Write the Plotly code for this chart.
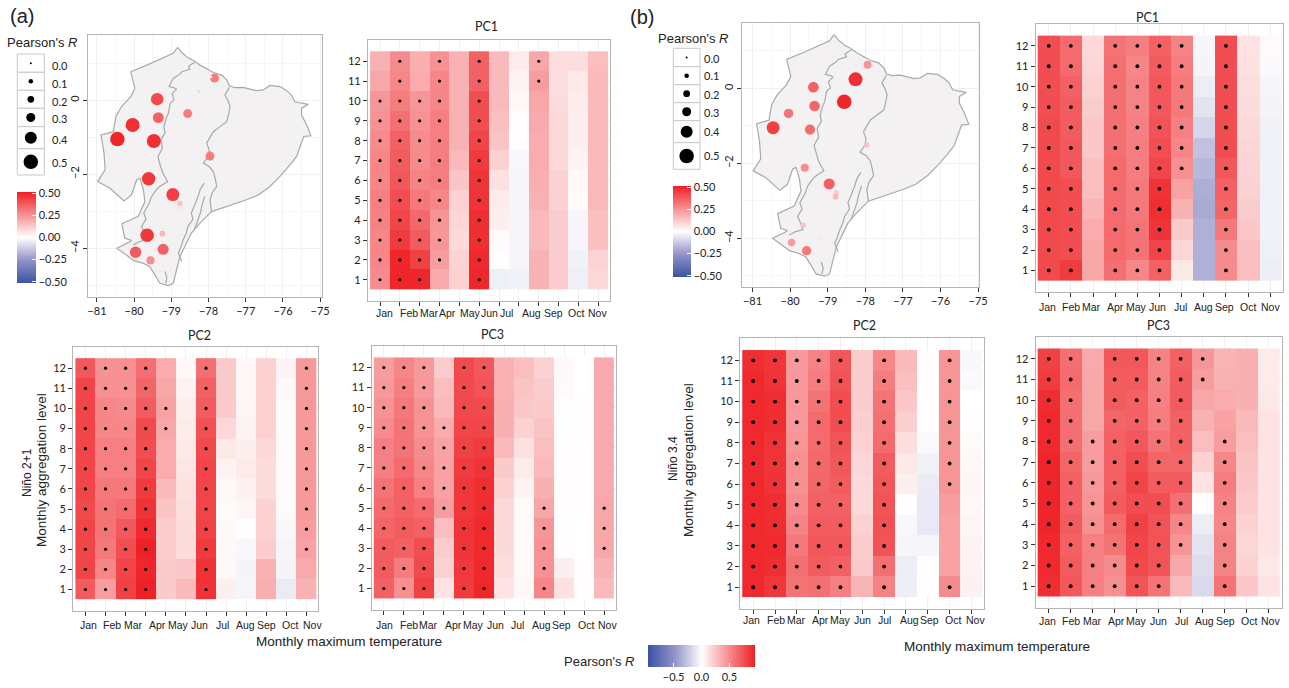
import numpy as np
import plotly.graph_objects as go

W, H = 1289, 688
MONTHS = ["Jan","Feb","Mar","Apr","May","Jun","Jul","Aug","Sep","Oct","Nov"]
LEVELS = list(range(1, 13))

# ---- Heatmap values, one list per column, rows 1..12 ----
A_PC1 = [
 [.50,.52,.52,.54,.55,.52,.52,.50,.47,.45,.38,.33],
 [.94,.93,.85,.80,.76,.72,.70,.68,.62,.56,.52,.50],
 [.93,.82,.70,.65,.58,.54,.50,.50,.47,.45,.36,.35],
 [.37,.42,.45,.46,.52,.56,.56,.55,.55,.52,.52,.48],
 [.20,.19,.16,.18,.20,.25,.30,.33,.33,.33,.33,.33],
 [.93,.92,.90,.90,.88,.87,.85,.80,.76,.76,.68,.68],
 [-.07,.01,.02,.07,.08,.13,.20,.26,.27,.30,.30,.30],
 [-.06,-.04,-.04,-.04,-.04,-.04,-.03,.01,.01,.03,.05,.08],
 [.33,.33,.30,.30,.33,.35,.36,.36,.37,.38,.42,.38],
 [.22,.22,.22,.22,.20,.20,.16,.16,.16,.15,.14,.14],
 [-.07,-.06,-.04,-.04,.02,.03,.05,.07,.07,.08,.10,.14],
 [.17,.19,.27,.27,.30,.30,.30,.30,.30,.30,.30,.28]]
A_PC2 = [
 [.70,.80,.80,.80,.78,.80,.80,.80,.80,.80,.80,.72],
 [.42,.52,.58,.60,.60,.58,.55,.55,.52,.52,.48,.47],
 [.82,.80,.76,.72,.64,.58,.55,.55,.52,.50,.48,.48],
 [.95,.93,.95,.92,.88,.85,.80,.76,.78,.70,.66,.62],
 [.23,.23,.22,.22,.25,.30,.36,.36,.38,.40,.38,.36],
 [.30,.24,.15,.15,.14,.13,.11,.10,.09,.07,.05,.03],
 [.88,.88,.85,.82,.80,.80,.80,.78,.75,.70,.68,.62],
 [.07,.03,.03,.03,.02,.03,.05,.10,.17,.23,.23,.23],
 [-.04,-.05,-.03,.01,.04,.06,.09,.07,.05,.04,.03,.03],
 [.35,.33,.22,.20,.20,.15,.15,.17,.20,.20,.20,.20],
 [-.09,-.05,-.04,-.03,.02,.02,.02,.02,.02,.02,.03,.05],
 [.33,.37,.40,.42,.44,.44,.44,.44,.44,.44,.44,.44]]
A_PC3 = [
 [.68,.70,.70,.66,.64,.60,.55,.55,.50,.47,.44,.42],
 [.48,.56,.68,.70,.68,.68,.64,.60,.60,.58,.55,.52],
 [.82,.78,.76,.68,.64,.55,.52,.50,.47,.47,.44,.44],
 [.12,.20,.22,.28,.42,.40,.40,.40,.36,.30,.28,.22],
 [.85,.86,.87,.88,.86,.86,.84,.82,.80,.78,.78,.78],
 [.93,.92,.92,.92,.90,.90,.88,.84,.80,.78,.74,.72],
 [.12,.14,.16,.16,.17,.20,.23,.30,.34,.34,.33,.33],
 [.03,.02,.02,.02,.02,.05,.09,.13,.20,.24,.26,.28],
 [.52,.47,.47,.45,.38,.34,.30,.28,.26,.23,.22,.20],
 [.13,.07,.01,.01,.01,.01,.01,.01,.01,.01,.02,.03],
 [.01,.01,.00,.00,.01,.01,.01,.01,-.01,-.01,.00,.00],
 [.30,.33,.38,.38,.38,.37,.37,.37,.37,.37,.37,.37]]
B_PC1 = [
 [.78,.78,.78,.78,.78,.78,.78,.78,.76,.76,.76,.76],
 [.84,.76,.76,.76,.76,.72,.72,.70,.70,.68,.64,.64],
 [.38,.38,.36,.32,.28,.27,.24,.24,.22,.20,.18,.17],
 [.62,.64,.64,.64,.64,.64,.62,.62,.62,.62,.62,.60],
 [.52,.60,.60,.58,.58,.56,.56,.55,.54,.54,.52,.56],
 [.68,.80,.88,.90,.88,.80,.76,.74,.72,.72,.70,.68],
 [.10,.18,.23,.33,.40,.48,.52,.55,.58,.58,.56,.54],
 [-.35,-.35,-.35,-.38,-.36,-.32,-.27,-.18,-.12,-.08,-.05,-.04],
 [.50,.50,.58,.66,.68,.72,.76,.76,.76,.76,.76,.76],
 [.28,.27,.24,.22,.20,.19,.18,.16,.15,.14,.13,.12],
 [-.08,-.07,-.06,-.06,-.06,-.06,-.06,-.06,-.05,-.04,-.02,.02]]
B_PC2 = [
 [.92,.92,.92,.92,.92,.92,.92,.92,.92,.92,.92,.90],
 [.86,.90,.92,.90,.90,.88,.87,.88,.90,.90,.88,.87],
 [.60,.62,.58,.54,.50,.48,.48,.46,.44,.44,.44,.44],
 [.62,.70,.72,.70,.68,.66,.65,.64,.64,.60,.56,.54],
 [.55,.68,.72,.70,.68,.70,.72,.74,.76,.76,.74,.72],
 [.32,.23,.22,.20,.17,.16,.18,.20,.21,.22,.22,.22],
 [.54,.62,.74,.75,.74,.72,.70,.64,.62,.60,.56,.52],
 [-.08,-.08,-.04,-.03,.01,.07,.10,.14,.21,.24,.27,.30],
 [.01,-.01,-.04,-.10,-.10,-.09,-.06,-.02,.01,.01,.01,.01],
 [.50,.40,.40,.40,.42,.46,.46,.46,.46,.46,.46,.46],
 [.06,.05,.05,.04,.03,.04,.03,.02,.01,.00,-.02,-.03]]
B_PC3 = [
 [.90,.92,.92,.94,.94,.94,.94,.92,.92,.90,.84,.82],
 [.72,.70,.68,.70,.68,.68,.66,.62,.62,.62,.64,.62],
 [.55,.55,.55,.48,.46,.44,.42,.42,.38,.38,.38,.37],
 [.48,.50,.60,.64,.70,.68,.68,.68,.66,.70,.70,.72],
 [.74,.78,.80,.82,.76,.80,.76,.72,.68,.68,.70,.72],
 [.60,.74,.74,.74,.76,.70,.66,.60,.56,.55,.54,.54],
 [.30,.38,.46,.52,.62,.70,.66,.68,.68,.70,.70,.68],
 [-.17,-.15,-.12,-.08,.00,.12,.20,.28,.33,.38,.42,.45],
 [.60,.54,.54,.52,.54,.56,.52,.42,.40,.36,.33,.32],
 [.24,.20,.18,.20,.22,.24,.26,.28,.30,.34,.34,.35],
 [.12,.10,.12,.12,.12,.12,.12,.12,.12,.10,.09,.09]]

# ---- Significant cells: column -> rows ----
ALL = LEVELS
A_PC1_SIG = {1:LEVELS[:10],2:ALL,3:LEVELS[:10],4:LEVELS[1:],6:ALL,9:[11,12]}
A_PC2_SIG = {1:ALL,2:ALL,3:ALL,4:ALL,5:[9,10],7:ALL,12:LEVELS[2:]}
A_PC3_SIG = {1:ALL,2:ALL,3:ALL,4:[5,6,7,8,9],5:ALL,6:ALL,9:[1,2,3,4,5],12:[3,4,5]}
B_PC1_SIG = {1:ALL,2:ALL,4:ALL,5:ALL,6:ALL,7:LEVELS[5:],9:ALL}
B_PC2_SIG = {1:ALL,2:ALL,3:ALL,4:ALL,5:ALL,7:ALL,10:[1,6,7,8,9,10,11,12]}
B_PC3_SIG = {1:ALL,2:ALL,3:LEVELS[:8],4:ALL,5:ALL,6:ALL,7:LEVELS[2:],8:[11,12],9:LEVELS[:8]}

# ---- Hand-placed month label positions (in column units) ----
A_PC1_LAB = [1.22,2.46,3.49,4.41,5.54,6.50,7.35,8.61,9.72,10.90,11.97]
A_PC2_LAB = [1.17,2.34,3.37,4.58,5.61,6.66,7.80,8.98,10.0,11.17,12.28]
A_PC3_LAB = [1.03,2.25,3.24,4.46,5.49,6.56,7.68,8.87,9.89,11.10,12.18]
B_PC1_LAB = [.94,2.01,2.94,4.02,4.96,5.91,6.95,8.0,8.94,10.0,11.0]
B_PC2_LAB = [.94,2.04,2.97,4.07,5.0,5.99,7.03,8.14,9.08,10.16,11.17]
B_PC3_LAB = [.95,2.03,2.97,4.06,5.0,5.97,7.02,8.08,9.02,10.09,11.1]

# ---- Stations ----
ST_LON = [-80.45,-80.04,-79.47,-79.38,-79.35,-79.61,-78.96,-79.65,-79.96,-79.22,-79.56,-79.24,-78.77,-78.79,-78.56,-77.96,-77.84,-77.94,-78.26]
ST_LAT = [-1.05,-.67,-1.10,.03,-.47,-2.12,-2.55,-3.65,-4.11,-4.03,-4.33,-3.61,-2.79,-2.89,-.36,-1.51,.60,.63,.24]
ST_R_A = [.50,.48,.48,.42,.36,.46,.44,.46,.38,.37,.26,.16,.14,.08,.30,.30,.30,-.03,-.07]
ST_R_B = [.44,.32,.34,.36,.35,.26,.37,.14,.23,.06,.31,.03,.13,.16,.50,.14,.08,.25,.48]
KEY_R = [0,.1,.2,.3,.4,.5]
KEY_PX = [2,4.5,6.7,9,12,14.5]

# ---- Ecuador outline ----
BORDER_LON = [-78.83,-78.72,-78.54,-78.38,-78.23,-78.05,-77.87,-77.65,-77.51,-77.44,-77.29,-77.07,-76.71,-76.53,-76.35,-76.08,-75.90,-75.77,-75.68,-75.32,-75.50,-75.50,-75.36,-75.25,-75.44,-75.54,-75.63,-75.81,-76.08,-76.35,-76.66,-76.98,-77.34,-77.69,-77.92,-78.05,-78.23,-78.46,-78.63,-78.77,-78.86,-78.95,-79.08,-79.31,-79.44,-79.58,-79.75,-80.02,-80.25,-80.47,-80.16,-80.07,-80.25,-80.33,-79.89,-79.71,-79.75,-79.84,-79.93,-80.07,-80.27,-80.65,-80.98,-80.78,-80.81,-80.89,-80.56,-80.49,-80.34,-80.09,-79.98,-80.09,-79.66,-79.22,-78.95,-78.83]
BORDER_LAT = [1.43,1.29,1.14,1.06,.95,.85,.75,.68,.55,.39,.34,.35,.26,.28,.40,.37,.26,.14,-.04,-.11,-.22,-.40,-.67,-.96,-.98,-1.25,-1.52,-1.75,-2.06,-2.33,-2.56,-2.69,-2.81,-2.92,-3.01,-3.14,-3.32,-3.59,-3.95,-4.23,-4.59,-4.95,-5.01,-4.95,-4.72,-4.50,-4.41,-4.33,-4.15,-4.00,-3.85,-3.79,-3.73,-3.34,-3.14,-2.74,-2.42,-2.11,-2.15,-2.56,-2.72,-2.38,-2.20,-1.88,-1.43,-.94,-.85,-.44,-.17,.10,.32,.77,.95,1.14,1.27,1.43]
WEST_LON = [-78.37,-78.45,-78.54,-78.50,-78.72,-78.78,-78.95,-79.06,-78.93,-78.86,-78.98,-78.93,-79.03,-79.08,-79.14,-79.20,-79.17,-79.28,-79.24,-79.36,-79.30,-79.23,-79.10,-79.31,-79.40,-79.53,-79.60,-79.74,-79.68,-79.80,-79.72,-79.66,-79.85,-80.02]
WEST_LAT = [1.02,.98,.91,.84,.77,.70,.59,.37,.34,.30,.18,.01,-.08,-.35,-.50,-.71,-.88,-1.07,-1.30,-1.52,-1.75,-1.97,-2.20,-2.33,-2.42,-2.60,-2.80,-3.05,-3.22,-3.41,-3.60,-3.77,-3.82,-3.91]
EAST_LON = [-77.44,-77.56,-77.48,-77.42,-77.46,-77.51,-77.70,-77.87,-78.05,-77.98,-78.01,-78.14,-77.98,-77.87,-77.82,-77.78,-77.90,-77.96,-77.92]
EAST_LAT = [.35,.14,.0,-.17,-.38,-.58,-.72,-.85,-1.16,-1.35,-1.52,-1.70,-1.80,-1.93,-2.12,-2.33,-2.50,-2.69,-3.01]
RIDGE_LON = [-78.12,-78.22,-78.28,-78.36,-78.46,-78.42,-78.55,-78.60,-78.68,-78.74,-78.81,-78.72]
RIDGE_LAT = [-2.24,-2.40,-2.60,-2.82,-3.05,-3.22,-3.41,-3.60,-3.77,-3.95,-4.14,-4.36]
RIDGE2_LON = [-78.10,-78.18,-78.22,-78.30,-78.38]
RIDGE2_LAT = [-2.60,-2.85,-3.05,-3.25,-3.50]
SOUTH_LON = [-79.17,-79.12,-79.15]
SOUTH_LAT = [-4.63,-4.80,-4.95]

SCALE = [[0,"#3953A4"],[.25,"#9293C8"],[.5,"#FFFFFF"],[1,"#EE2024"]]
FRAME = "#B4B4B4"; GRID = "#F0F0F0"; TXT = "#222222"
SANS = "Liberation Sans"; HUM = "Lato"

def dx(a, b): return [a/W, b/W]
def dy(t, b): return [1-b/H, 1-t/H]

fig = go.Figure()
layout = {}
ann = []
shapes = []

def text(px, py, s, size=13, font=SANS, angle=0, anchor="center"):
    ann.append(dict(x=px/W, y=1-py/H, xref="paper", yref="paper", text=s, showarrow=False,
                    xanchor=anchor, yanchor="middle", textangle=angle,
                    font=dict(family=font, size=size, color=TXT)))

def axis_common():
    return dict(showline=True, linecolor=FRAME, linewidth=1.2, mirror=True, zeroline=False,
                showgrid=True, gridcolor=GRID, gridwidth=1, ticks="outside", ticklen=4,
                tickwidth=1, tickcolor="#333333", layer="below traces", automargin=False)

def heat_panel(n, box, xr, yr, cols, sig, labs, lab_y, title, title_xy, dot):
    l, r, t, b = box
    xs = list(range(1, len(cols)+1))
    fig.add_trace(go.Heatmap(x=xs, y=LEVELS, z=np.array(cols).T, coloraxis="coloraxis",
                             hoverinfo="skip", xaxis=f"x{n}", yaxis=f"y{n}"))
    dx_pts = [c for c, rows in sig.items() for _ in rows]
    dy_pts = [v for c, rows in sig.items() for v in rows]
    fig.add_trace(go.Scatter(x=dx_pts, y=dy_pts, mode="markers", hoverinfo="skip",
                             marker=dict(color="black", size=dot, line=dict(width=0)),
                             xaxis=f"x{n}", yaxis=f"y{n}", showlegend=False))
    layout[f"xaxis{n}"] = dict(axis_common(), domain=dx(l, r), range=xr, tickmode="array", tickvals=xs,
                               showticklabels=False, anchor=f"y{n}")
    layout[f"yaxis{n}"] = dict(axis_common(), domain=dy(t, b), range=yr, tickmode="array", tickvals=LEVELS,
                               tickfont=dict(family=HUM, size=11, color=TXT), anchor=f"x{n}")
    for m, x in zip(MONTHS, labs):
        ann.append(dict(x=x, y=1-lab_y/H, xref=f"x{n}", yref="paper", text=m, showarrow=False,
                        xanchor="center", yanchor="middle",
                        font=dict(family=SANS, size=10.5, color=TXT)))
    text(title_xy[0], title_xy[1], title, size=12.5, font=HUM)

def map_panel(n, box, xr, yr, r_vals, cax):
    l, r, t, b = box
    fig.add_trace(go.Scatter(x=BORDER_LON, y=BORDER_LAT, mode="lines", fill="toself", fillcolor="#F3F1F2",
                             line=dict(color="#A9A9A9", width=1.2), hoverinfo="skip", showlegend=False,
                             xaxis=f"x{n}", yaxis=f"y{n}"))
    for lo, la in [(WEST_LON, WEST_LAT), (EAST_LON, EAST_LAT), (RIDGE_LON, RIDGE_LAT),
                   (RIDGE2_LON, RIDGE2_LAT), (SOUTH_LON, SOUTH_LAT)]:
        fig.add_trace(go.Scatter(x=lo, y=la, mode="lines", line=dict(color="#A9A9A9", width=1.2),
                                 hoverinfo="skip", showlegend=False, xaxis=f"x{n}", yaxis=f"y{n}"))
    sizes = np.interp(np.abs(r_vals), KEY_R, KEY_PX)
    fig.add_trace(go.Scatter(x=ST_LON, y=ST_LAT, mode="markers", hoverinfo="skip", showlegend=False,
                             marker=dict(size=sizes, color=r_vals, coloraxis=cax, opacity=1, line=dict(width=0)),
                             xaxis=f"x{n}", yaxis=f"y{n}"))
    minor_x = dict(tickmode="array", tickvals=[-80.5,-79.5,-78.5,-77.5,-76.5,-75.5], showgrid=True,
                   gridcolor="#F6F6F6", gridwidth=1, ticks="")
    minor_y = dict(tickmode="array", tickvals=[1,-1,-3,-5], showgrid=True,
                   gridcolor="#F6F6F6", gridwidth=1, ticks="")
    layout[f"xaxis{n}"] = dict(axis_common(), domain=dx(l, r), range=xr, tickmode="array",
                               tickvals=[-81,-80,-79,-78,-77,-76,-75], minor=minor_x, anchor=f"y{n}",
                               tickfont=dict(family=HUM, size=11, color=TXT))
    layout[f"yaxis{n}"] = dict(axis_common(), domain=dy(t, b), range=yr, tickmode="array",
                               tickvals=[0,-2,-4], minor=minor_y, anchor=f"x{n}", tickangle=-90,
                               tickfont=dict(family=HUM, size=11, color=TXT))

def legend(title_xy, box_x, box_y, lab_x, lab_ys, bar, bar_name):
    text(title_xy[0], title_xy[1], "Pearson's <i>R</i>", size=13)
    for i in range(6):
        shapes.append(dict(type="rect", xref="paper", yref="paper", layer="below",
                           x0=box_x[0]/W, x1=box_x[1]/W, y0=1-box_y[i+1]/H, y1=1-box_y[i]/H,
                           line=dict(color="#C8C8C8", width=1), fillcolor="white"))
        text(lab_x, lab_ys[i], f"{KEY_R[i]:.1f}", size=11, font=HUM, anchor="left")
    cx = [(box_x[0]+box_x[1])/2]*6
    cy = [(box_y[i]+box_y[i+1])/2 for i in range(6)]
    fig.add_trace(go.Scatter(x=cx, y=cy, mode="markers", hoverinfo="skip", showlegend=False,
                             marker=dict(size=KEY_PX, color="black", opacity=1, line=dict(width=0)),
                             xaxis="x9", yaxis="y9"))
    layout[bar_name] = dict(
        colorscale=SCALE, cmin=-.515, cmax=.515,
        colorbar=dict(x=bar[0]/W, xanchor="left", y=1-bar[2]/H, yanchor="top", len=(bar[3]-bar[2])/H,
                      lenmode="fraction", thickness=bar[1]-bar[0], thicknessmode="pixels",
                      xpad=0, ypad=0, outlinewidth=0, ticks="inside", ticklen=4, tickcolor="white",
                      tickmode="array", tickvals=[.5,.25,0,-.25,-.5],
                      ticktext=["0.50","0.25","0.00","\u22120.25","\u22120.50"],
                      tickfont=dict(family=HUM, size=11, color=TXT)))

# Maps
map_panel(1, (88, 322, 35, 297), [-81.24, -74.95], [-5.32, 1.765], ST_R_A, "coloraxis2")
map_panel(2, (742.3, 979.3, 22.7, 286.7), [-81.27, -74.97], [-5.29, 1.75], ST_R_B, "coloraxis3")

# Heatmaps
XR12, YR = [.395, 12.59], [-.07, 13.07]
heat_panel(3, (368, 610, 40, 301), XR12, YR, A_PC1, A_PC1_SIG, A_PC1_LAB, 313, "PC1", (486, 27), 3.2)
heat_panel(4, (73.3, 318.3, 346.7, 611), XR12, YR, A_PC2, A_PC2_SIG, A_PC2_LAB, 625, "PC2", (199, 335), 3.2)
heat_panel(5, (371.7, 616, 346, 610), XR12, YR, A_PC3, A_PC3_SIG, A_PC3_LAB, 625, "PC3", (493, 334), 3.2)
XR11 = [.41, 11.59]
heat_panel(6, (1035.7, 1283.3, 24, 292.3), XR11, YR, B_PC1, B_PC1_SIG, B_PC1_LAB, 307, "PC1", (1147, 17), 3.8)
heat_panel(7, (740.3, 984.3, 338.3, 609.3), XR11, YR, B_PC2, B_PC2_SIG, B_PC2_LAB, 620, "PC2", (864, 326), 3.8)
heat_panel(8, (1035.7, 1281.7, 336.7, 608.3), XR11, YR, B_PC3, B_PC3_SIG, B_PC3_LAB, 621, "PC3", (1158, 325), 3.8)

# Overlay axes in page pixels for the size legends
layout["xaxis9"] = dict(domain=[0, 1], range=[0, W], visible=False, anchor="y9", fixedrange=True, automargin=False)
layout["yaxis9"] = dict(domain=[0, 1], range=[H, 0], visible=False, anchor="x9", fixedrange=True, automargin=False)

legend((42, 42), (17.3, 44.3), [54, 72.3, 90.3, 108.3, 126.7, 148.7, 175], 49.5,
       [65, 83, 101, 119, 139, 163], (17.3, 36, 192, 283), "coloraxis2")
legend((693, 39), (673.3, 700), [48.3, 66.7, 84.7, 102.7, 120.7, 142.7, 169.3], 702,
       [58, 76, 94, 112, 131, 155], (673.3, 691.7, 186, 276.7), "coloraxis3")

# Shared heatmap colour bar
layout["coloraxis"] = dict(
    colorscale=SCALE, cmin=-.96, cmax=.96,
    colorbar=dict(orientation="h", x=648/W, xanchor="left", y=1-645/H, yanchor="top", len=107/W,
                  lenmode="fraction", thickness=22, thicknessmode="pixels", xpad=0, ypad=0,
                  outlinewidth=0, ticks="inside", ticklen=4, tickcolor="white",
                  tickmode="array", tickvals=[-.5, 0, .5], ticktext=["\u22120.5", "0.0", "0.5"],
                  tickfont=dict(family=HUM, size=11, color=TXT)))

# Free text
text(22, 16, "(a)", size=20)
text(642, 17, "(b)", size=20)
text(349, 641, "Monthly maximum temperature", size=13.5)
text(997, 646, "Monthly maximum temperature", size=13.5)
text(41, 470, "Monthly aggregation level", size=13.5, angle=-90)
text(27, 473, "Ni\u00f1o 2+1", size=12, angle=-90)
text(688, 460, "Monthly aggregation level", size=13.5, angle=-90)
text(673, 458, "Ni\u00f1o 3.4", size=12, angle=-90)
text(599, 661, "Pearson's <i>R</i>", size=13)

fig.update_layout(width=W, height=H, margin=dict(l=0, r=0, t=0, b=0, autoexpand=False), paper_bgcolor="white",
                  plot_bgcolor="rgba(0,0,0,0)", showlegend=False, annotations=ann, shapes=shapes, **layout)
fig.write_html("out.html", config=dict(displayModeBar=False), post_script="document.body.style.margin='0';")
